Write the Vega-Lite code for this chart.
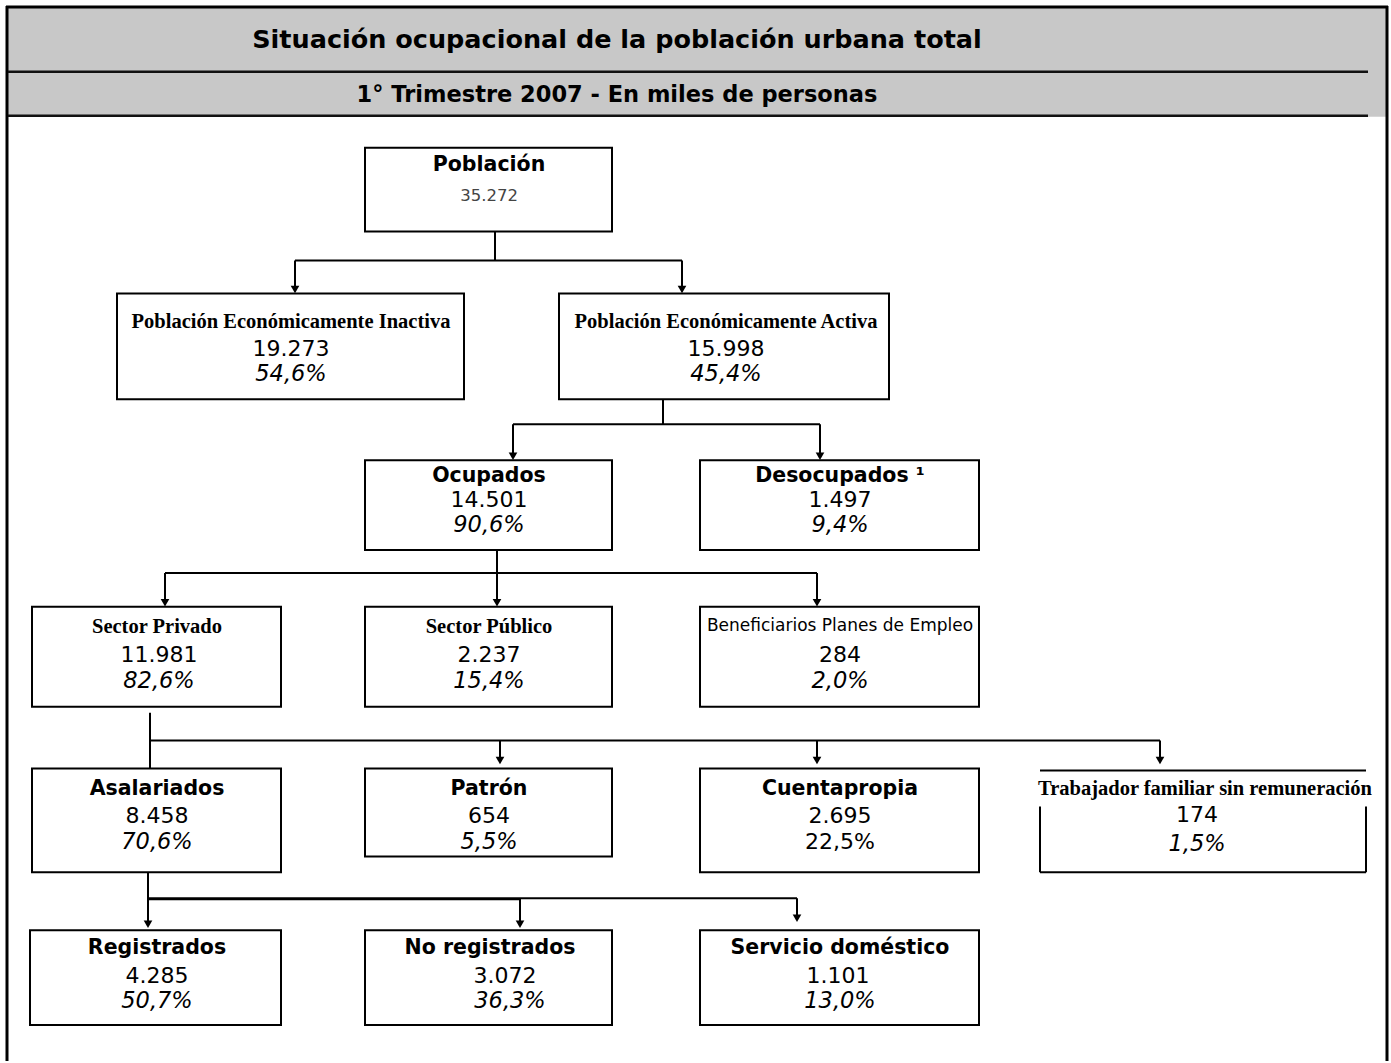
{
  "$schema": "https://vega.github.io/schema/vega-lite/v6.json",
  "width": 1391,
  "height": 1063,
  "padding": 0,
  "autosize": {"type": "fit", "contains": "padding"},
  "background": "white",
  "config": {"view": {"stroke": null}},
  "datasets": {
    "bands": [
      {"part": "header", "x1": 8, "x2": 1387, "y1": 8, "y2": 117}
    ],
    "frame": [
      {"part": "top", "x1": 6, "y1": 7, "x2": 1388, "y2": 7},
      {"part": "left", "x1": 7, "y1": 6, "x2": 7, "y2": 1063},
      {"part": "right", "x1": 1387, "y1": 6, "x2": 1387, "y2": 1063}
    ],
    "rules": [
      {"part": "under title", "x1": 8, "y1": 72, "x2": 1368, "y2": 72},
      {"part": "under subtitle", "x1": 8, "y1": 116, "x2": 1368, "y2": 116}
    ],
    "boxes": [
      {"node": "Población", "x1": 365, "x2": 612, "y1": 148, "y2": 232},
      {"node": "Población Económicamente Inactiva", "x1": 117, "x2": 464, "y1": 294, "y2": 400},
      {"node": "Población Económicamente Activa", "x1": 559, "x2": 889, "y1": 294, "y2": 400},
      {"node": "Ocupados", "x1": 365, "x2": 612, "y1": 461, "y2": 551},
      {"node": "Desocupados", "x1": 700, "x2": 979, "y1": 461, "y2": 551},
      {"node": "Sector Privado", "x1": 32, "x2": 281, "y1": 608, "y2": 708},
      {"node": "Sector Público", "x1": 365, "x2": 612, "y1": 608, "y2": 708},
      {"node": "Beneficiarios Planes de Empleo", "x1": 700, "x2": 979, "y1": 608, "y2": 708},
      {"node": "Asalariados", "x1": 32, "x2": 281, "y1": 770, "y2": 874},
      {"node": "Patrón", "x1": 365, "x2": 612, "y1": 770, "y2": 858},
      {"node": "Cuentapropia", "x1": 700, "x2": 979, "y1": 770, "y2": 874},
      {"node": "Registrados", "x1": 30, "x2": 281, "y1": 932, "y2": 1027},
      {"node": "No registrados", "x1": 365, "x2": 612, "y1": 932, "y2": 1027},
      {"node": "Servicio doméstico", "x1": 700, "x2": 979, "y1": 932, "y2": 1027}
    ],
    "links": [
      {"x1": 495, "y1": 232, "x2": 495, "y2": 261},
      {"x1": 295, "y1": 261, "x2": 682, "y2": 261},
      {"x1": 295, "y1": 261, "x2": 295, "y2": 290},
      {"x1": 682, "y1": 261, "x2": 682, "y2": 290},
      {"x1": 663, "y1": 400, "x2": 663, "y2": 425},
      {"x1": 513, "y1": 425, "x2": 513, "y2": 457},
      {"x1": 513, "y1": 425, "x2": 820, "y2": 425},
      {"x1": 820, "y1": 425, "x2": 820, "y2": 457},
      {"x1": 497, "y1": 551, "x2": 497, "y2": 574},
      {"x1": 165, "y1": 574, "x2": 817, "y2": 574},
      {"x1": 165, "y1": 574, "x2": 165, "y2": 604},
      {"x1": 497, "y1": 574, "x2": 497, "y2": 604},
      {"x1": 817, "y1": 574, "x2": 817, "y2": 604},
      {"x1": 150, "y1": 714, "x2": 150, "y2": 770},
      {"x1": 150, "y1": 742, "x2": 1160, "y2": 742},
      {"x1": 500, "y1": 742, "x2": 500, "y2": 762},
      {"x1": 817, "y1": 742, "x2": 817, "y2": 762},
      {"x1": 1160, "y1": 742, "x2": 1160, "y2": 762},
      {"x1": 148, "y1": 874, "x2": 148, "y2": 926},
      {"x1": 148, "y1": 900, "x2": 797, "y2": 900},
      {"x1": 148, "y1": 901, "x2": 520, "y2": 901},
      {"x1": 520, "y1": 900, "x2": 520, "y2": 926},
      {"x1": 797, "y1": 900, "x2": 797, "y2": 920},
      {"x1": 1040, "y1": 772, "x2": 1366, "y2": 772},
      {"x1": 1040, "y1": 808, "x2": 1040, "y2": 874},
      {"x1": 1366, "y1": 808, "x2": 1366, "y2": 874},
      {"x1": 1040, "y1": 874, "x2": 1366, "y2": 874}
    ],
    "arrows": [
      {"x": 295, "y": 290},
      {"x": 682, "y": 290},
      {"x": 513, "y": 457},
      {"x": 820, "y": 457},
      {"x": 165, "y": 604},
      {"x": 497, "y": 604},
      {"x": 817, "y": 604},
      {"x": 500, "y": 762},
      {"x": 817, "y": 762},
      {"x": 1160, "y": 762},
      {"x": 148, "y": 926},
      {"x": 520, "y": 926},
      {"x": 797, "y": 920}
    ],
    "labels": [
      {"role": "title", "text": "Situación ocupacional de la población urbana total", "x": 617, "y": 40},
      {"role": "subtitle", "text": "1° Trimestre 2007 - En miles de personas", "x": 617, "y": 95},
      {"role": "name", "text": "Población", "x": 489, "y": 165},
      {"role": "name", "text": "Ocupados", "x": 489, "y": 477},
      {"role": "name", "text": "Desocupados ¹", "x": 840, "y": 477},
      {"role": "name", "text": "Asalariados", "x": 157, "y": 790},
      {"role": "name", "text": "Patrón", "x": 489, "y": 790},
      {"role": "name", "text": "Cuentapropia", "x": 840, "y": 790},
      {"role": "name", "text": "Registrados", "x": 157, "y": 950},
      {"role": "name", "text": "No registrados", "x": 490, "y": 950},
      {"role": "name", "text": "Servicio doméstico", "x": 840, "y": 950},
      {"role": "name_serif", "text": "Población Económicamente Inactiva", "x": 291, "y": 323},
      {"role": "name_serif", "text": "Población Económicamente Activa", "x": 726, "y": 323},
      {"role": "name_serif", "text": "Sector Privado", "x": 157, "y": 628},
      {"role": "name_serif", "text": "Sector Público", "x": 489, "y": 628},
      {"role": "name_serif", "text": "Trabajador familiar sin remuneración", "x": 1205, "y": 790},
      {"role": "name_plain", "text": "Beneficiarios Planes de Empleo", "x": 840, "y": 627},
      {"role": "total", "text": "35.272", "x": 489, "y": 196},
      {"role": "value", "text": "19.273", "x": 291, "y": 350},
      {"role": "value", "text": "15.998", "x": 726, "y": 350},
      {"role": "value", "text": "14.501", "x": 489, "y": 501},
      {"role": "value", "text": "1.497", "x": 840, "y": 501},
      {"role": "value", "text": "11.981", "x": 159, "y": 656},
      {"role": "value", "text": "2.237", "x": 489, "y": 656},
      {"role": "value", "text": "284", "x": 840, "y": 656},
      {"role": "value", "text": "8.458", "x": 157, "y": 818},
      {"role": "value", "text": "654", "x": 489, "y": 818},
      {"role": "value", "text": "2.695", "x": 840, "y": 818},
      {"role": "value", "text": "22,5%", "x": 840, "y": 844},
      {"role": "value", "text": "174", "x": 1197, "y": 817},
      {"role": "value", "text": "4.285", "x": 157, "y": 978},
      {"role": "value", "text": "3.072", "x": 505, "y": 978},
      {"role": "value", "text": "1.101", "x": 838, "y": 978},
      {"role": "share", "text": "54,6%", "x": 291, "y": 375},
      {"role": "share", "text": "45,4%", "x": 726, "y": 375},
      {"role": "share", "text": "90,6%", "x": 489, "y": 526},
      {"role": "share", "text": "9,4%", "x": 840, "y": 526},
      {"role": "share", "text": "82,6%", "x": 159, "y": 682},
      {"role": "share", "text": "15,4%", "x": 489, "y": 682},
      {"role": "share", "text": "2,0%", "x": 840, "y": 682},
      {"role": "share", "text": "70,6%", "x": 157, "y": 844},
      {"role": "share", "text": "5,5%", "x": 489, "y": 844},
      {"role": "share", "text": "1,5%", "x": 1197, "y": 846},
      {"role": "share", "text": "50,7%", "x": 157, "y": 1003},
      {"role": "share", "text": "36,3%", "x": 510, "y": 1003},
      {"role": "share", "text": "13,0%", "x": 840, "y": 1003}
    ]
  },
  "layer": [
    {
      "data": {"name": "bands"},
      "mark": {"type": "rect", "fill": "#c8c8c8"},
      "encoding": {
        "x": {"field": "x1", "type": "quantitative", "scale": {"domain": [0, 1391], "nice": false, "zero": false}, "axis": null},
        "x2": {"field": "x2"},
        "y": {"field": "y1", "type": "quantitative", "scale": {"domain": [0, 1063], "nice": false, "zero": false, "reverse": true}, "axis": null},
        "y2": {"field": "y2"}
      }
    },
    {
      "data": {"name": "frame"},
      "mark": {"type": "rule", "color": "#000000", "strokeWidth": 3},
      "encoding": {
        "x": {"field": "x1", "type": "quantitative", "scale": {"domain": [0, 1391], "nice": false, "zero": false}, "axis": null},
        "x2": {"field": "x2"},
        "y": {"field": "y1", "type": "quantitative", "scale": {"domain": [0, 1063], "nice": false, "zero": false, "reverse": true}, "axis": null},
        "y2": {"field": "y2"}
      }
    },
    {
      "data": {"name": "rules"},
      "mark": {"type": "rule", "color": "#111111", "strokeWidth": 2.5},
      "encoding": {
        "x": {"field": "x1", "type": "quantitative", "scale": {"domain": [0, 1391], "nice": false, "zero": false}, "axis": null},
        "x2": {"field": "x2"},
        "y": {"field": "y1", "type": "quantitative", "scale": {"domain": [0, 1063], "nice": false, "zero": false, "reverse": true}, "axis": null},
        "y2": {"field": "y2"}
      }
    },
    {
      "data": {"name": "links"},
      "mark": {"type": "rule", "color": "#000000", "strokeWidth": 2},
      "encoding": {
        "x": {"field": "x1", "type": "quantitative", "scale": {"domain": [0, 1391], "nice": false, "zero": false}, "axis": null},
        "x2": {"field": "x2"},
        "y": {"field": "y1", "type": "quantitative", "scale": {"domain": [0, 1063], "nice": false, "zero": false, "reverse": true}, "axis": null},
        "y2": {"field": "y2"}
      }
    },
    {
      "data": {"name": "boxes"},
      "mark": {"type": "rect", "fill": "#ffffff", "stroke": "#000000", "strokeWidth": 2},
      "encoding": {
        "x": {"field": "x1", "type": "quantitative", "scale": {"domain": [0, 1391], "nice": false, "zero": false}, "axis": null},
        "x2": {"field": "x2"},
        "y": {"field": "y1", "type": "quantitative", "scale": {"domain": [0, 1063], "nice": false, "zero": false, "reverse": true}, "axis": null},
        "y2": {"field": "y2"}
      }
    },
    {
      "data": {"name": "arrows"},
      "mark": {"type": "point", "shape": "triangle-down", "filled": true, "color": "#000000", "size": 75, "opacity": 1},
      "encoding": {
        "x": {"field": "x", "type": "quantitative", "scale": {"domain": [0, 1391], "nice": false, "zero": false}, "axis": null},
        "y": {"field": "y", "type": "quantitative", "scale": {"domain": [0, 1063], "nice": false, "zero": false, "reverse": true}, "axis": null}
      }
    },
    {
      "data": {"name": "labels"},
      "transform": [{"filter": "datum.role === 'title'"}],
      "mark": {"type": "text", "font": "DejaVu Sans", "fontWeight": "bold", "fontSize": 25.5, "color": "#000000", "align": "center", "baseline": "middle"},
      "encoding": {
        "x": {"field": "x", "type": "quantitative", "scale": {"domain": [0, 1391], "nice": false, "zero": false}, "axis": null},
        "y": {"field": "y", "type": "quantitative", "scale": {"domain": [0, 1063], "nice": false, "zero": false, "reverse": true}, "axis": null},
        "text": {"field": "text"}
      }
    },
    {
      "data": {"name": "labels"},
      "transform": [{"filter": "datum.role === 'subtitle'"}],
      "mark": {"type": "text", "font": "DejaVu Sans", "fontWeight": "bold", "fontSize": 22.5, "color": "#000000", "align": "center", "baseline": "middle"},
      "encoding": {
        "x": {"field": "x", "type": "quantitative", "scale": {"domain": [0, 1391], "nice": false, "zero": false}, "axis": null},
        "y": {"field": "y", "type": "quantitative", "scale": {"domain": [0, 1063], "nice": false, "zero": false, "reverse": true}, "axis": null},
        "text": {"field": "text"}
      }
    },
    {
      "data": {"name": "labels"},
      "transform": [{"filter": "datum.role === 'name'"}],
      "mark": {"type": "text", "font": "DejaVu Sans", "fontWeight": "bold", "fontSize": 20.5, "color": "#000000", "align": "center", "baseline": "middle"},
      "encoding": {
        "x": {"field": "x", "type": "quantitative", "scale": {"domain": [0, 1391], "nice": false, "zero": false}, "axis": null},
        "y": {"field": "y", "type": "quantitative", "scale": {"domain": [0, 1063], "nice": false, "zero": false, "reverse": true}, "axis": null},
        "text": {"field": "text"}
      }
    },
    {
      "data": {"name": "labels"},
      "transform": [{"filter": "datum.role === 'name_serif'"}],
      "mark": {"type": "text", "font": "Liberation Serif", "fontWeight": "bold", "fontSize": 20.5, "color": "#000000", "align": "center", "baseline": "middle"},
      "encoding": {
        "x": {"field": "x", "type": "quantitative", "scale": {"domain": [0, 1391], "nice": false, "zero": false}, "axis": null},
        "y": {"field": "y", "type": "quantitative", "scale": {"domain": [0, 1063], "nice": false, "zero": false, "reverse": true}, "axis": null},
        "text": {"field": "text"}
      }
    },
    {
      "data": {"name": "labels"},
      "transform": [{"filter": "datum.role === 'name_plain'"}],
      "mark": {"type": "text", "font": "DejaVu Sans", "fontSize": 17, "color": "#000000", "align": "center", "baseline": "middle"},
      "encoding": {
        "x": {"field": "x", "type": "quantitative", "scale": {"domain": [0, 1391], "nice": false, "zero": false}, "axis": null},
        "y": {"field": "y", "type": "quantitative", "scale": {"domain": [0, 1063], "nice": false, "zero": false, "reverse": true}, "axis": null},
        "text": {"field": "text"}
      }
    },
    {
      "data": {"name": "labels"},
      "transform": [{"filter": "datum.role === 'total'"}],
      "mark": {"type": "text", "font": "DejaVu Sans", "fontSize": 16.5, "color": "#444444", "align": "center", "baseline": "middle"},
      "encoding": {
        "x": {"field": "x", "type": "quantitative", "scale": {"domain": [0, 1391], "nice": false, "zero": false}, "axis": null},
        "y": {"field": "y", "type": "quantitative", "scale": {"domain": [0, 1063], "nice": false, "zero": false, "reverse": true}, "axis": null},
        "text": {"field": "text"}
      }
    },
    {
      "data": {"name": "labels"},
      "transform": [{"filter": "datum.role === 'value'"}],
      "mark": {"type": "text", "font": "DejaVu Sans", "fontSize": 22, "color": "#000000", "align": "center", "baseline": "middle"},
      "encoding": {
        "x": {"field": "x", "type": "quantitative", "scale": {"domain": [0, 1391], "nice": false, "zero": false}, "axis": null},
        "y": {"field": "y", "type": "quantitative", "scale": {"domain": [0, 1063], "nice": false, "zero": false, "reverse": true}, "axis": null},
        "text": {"field": "text"}
      }
    },
    {
      "data": {"name": "labels"},
      "transform": [{"filter": "datum.role === 'share'"}],
      "mark": {"type": "text", "font": "DejaVu Sans", "fontStyle": "italic", "fontSize": 22.5, "color": "#000000", "align": "center", "baseline": "middle"},
      "encoding": {
        "x": {"field": "x", "type": "quantitative", "scale": {"domain": [0, 1391], "nice": false, "zero": false}, "axis": null},
        "y": {"field": "y", "type": "quantitative", "scale": {"domain": [0, 1063], "nice": false, "zero": false, "reverse": true}, "axis": null},
        "text": {"field": "text"}
      }
    }
  ]
}
